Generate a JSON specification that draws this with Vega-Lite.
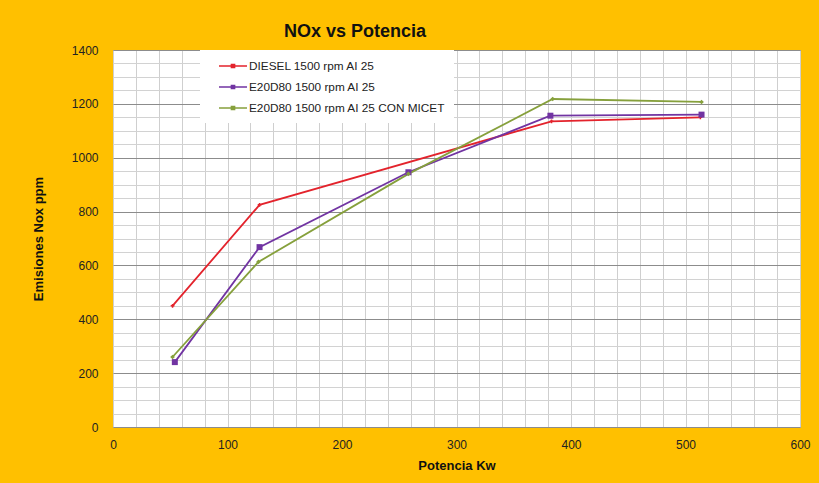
{
  "$schema": "https://vega.github.io/schema/vega-lite/v6.json",
  "autosize": {"type": "none"},
  "width": 687,
  "height": 377,
  "padding": {"left": 113, "top": 50, "right": 19, "bottom": 56},
  "background": "#FFC000",
  "title": {
    "text": "NOx vs Potencia",
    "anchor": "start",
    "frame": "group",
    "dx": 171,
    "offset": 3,
    "font": "Liberation Sans",
    "fontSize": 18,
    "fontWeight": "bold",
    "color": "#111111"
  },
  "config": {
    "view": {"stroke": "#8a8a8a", "strokeWidth": 1, "fill": "#ffffff"},
    "axis": {
      "labelFont": "Liberation Sans",
      "labelFontSize": 12,
      "labelColor": "#222222",
      "titleFont": "Liberation Sans",
      "titleFontSize": 13,
      "titleFontWeight": "bold",
      "titleColor": "#111111",
      "domain": false,
      "ticks": false
    }
  },
  "data": {
    "values": [
      {"serie": "DIESEL 1500 rpm AI 25", "kw": 52, "ppm": 450},
      {"serie": "DIESEL 1500 rpm AI 25", "kw": 128, "ppm": 825},
      {"serie": "DIESEL 1500 rpm AI 25", "kw": 383, "ppm": 1135},
      {"serie": "DIESEL 1500 rpm AI 25", "kw": 513, "ppm": 1150},
      {"serie": "E20D80 1500 rpm AI 25", "kw": 54, "ppm": 241},
      {"serie": "E20D80 1500 rpm AI 25", "kw": 128, "ppm": 668},
      {"serie": "E20D80 1500 rpm AI 25", "kw": 258, "ppm": 946},
      {"serie": "E20D80 1500 rpm AI 25", "kw": 382, "ppm": 1156},
      {"serie": "E20D80 1500 rpm AI 25", "kw": 514, "ppm": 1160},
      {"serie": "E20D80 1500 rpm AI 25 CON MICET", "kw": 52, "ppm": 260},
      {"serie": "E20D80 1500 rpm AI 25 CON MICET", "kw": 127, "ppm": 613},
      {"serie": "E20D80 1500 rpm AI 25 CON MICET", "kw": 258, "ppm": 940},
      {"serie": "E20D80 1500 rpm AI 25 CON MICET", "kw": 384, "ppm": 1218},
      {"serie": "E20D80 1500 rpm AI 25 CON MICET", "kw": 514, "ppm": 1207}
    ]
  },
  "encoding": {
    "x": {
      "field": "kw",
      "type": "quantitative",
      "title": "Potencia Kw",
      "scale": {"domain": [0, 600], "nice": false},
      "axis": {
        "values": [0, 20, 40, 60, 80, 100, 120, 140, 160, 180, 200, 220, 240, 260, 280, 300, 320, 340, 360, 380, 400, 420, 440, 460, 480, 500, 520, 540, 560, 580, 600],
        "format": "d",
        "labelExpr": "datum.value % 100 === 0 ? datum.label : ''",
        "grid": true,
        "gridColor": "#cfcfcf",
        "gridWidth": 1,
        "labelPadding": 12,
        "titlePadding": 9,
        "labelFlush": false
      }
    },
    "y": {
      "field": "ppm",
      "type": "quantitative",
      "title": "Emisiones Nox ppm",
      "scale": {"domain": [0, 1400], "nice": false},
      "axis": {
        "values": [0, 50, 100, 150, 200, 250, 300, 350, 400, 450, 500, 550, 600, 650, 700, 750, 800, 850, 900, 950, 1000, 1050, 1100, 1150, 1200, 1250, 1300, 1350, 1400],
        "format": "d",
        "labelExpr": "datum.value % 200 === 0 ? datum.label : ''",
        "grid": true,
        "gridColor": {"condition": {"test": "datum.value % 200 === 0", "value": "#8c8c8c"}, "value": "#d2d2d2"},
        "labelPadding": 15,
        "titlePadding": 26,
        "labelFlush": false
      }
    },
    "color": {
      "field": "serie",
      "type": "nominal",
      "scale": {
        "domain": ["DIESEL 1500 rpm AI 25", "E20D80 1500 rpm AI 25", "E20D80 1500 rpm AI 25 CON MICET"],
        "range": ["#e3232c", "#7134a2", "#86a03c"]
      },
      "legend": {
        "title": null,
        "orient": "none",
        "legendX": 87,
        "legendY": 0,
        "fillColor": "#ffffff",
        "padding": 8,
        "rowPadding": 6,
        "labelFont": "Liberation Sans",
        "labelFontSize": 11.8,
        "labelColor": "#222222",
        "labelLimit": 300,
        "labelOffset": 25,
        "symbolType": "M0.43,0H4.43M2.21,-0.22H2.65V0.22H2.21Z",
        "symbolSize": 196,
        "symbolStrokeWidth": 1.6,
        "symbolFillColor": "transparent",
        "symbolOpacity": 1
      }
    }
  },
  "layer": [
    {
      "mark": {"type": "line", "strokeWidth": 1.8},
      "encoding": {}
    },
    {
      "mark": {"type": "point", "filled": true, "opacity": 1},
      "encoding": {
        "shape": {
          "condition": [
            {"test": "datum.serie === 'DIESEL 1500 rpm AI 25'", "value": "cross"},
            {"test": "datum.serie === 'E20D80 1500 rpm AI 25'", "value": "square"}
          ],
          "value": "diamond"
        },
        "size": {
          "condition": [
            {"test": "datum.serie === 'DIESEL 1500 rpm AI 25'", "value": 14},
            {"test": "datum.serie === 'E20D80 1500 rpm AI 25'", "value": 36}
          ],
          "value": 22
        }
      }
    }
  ]
}
